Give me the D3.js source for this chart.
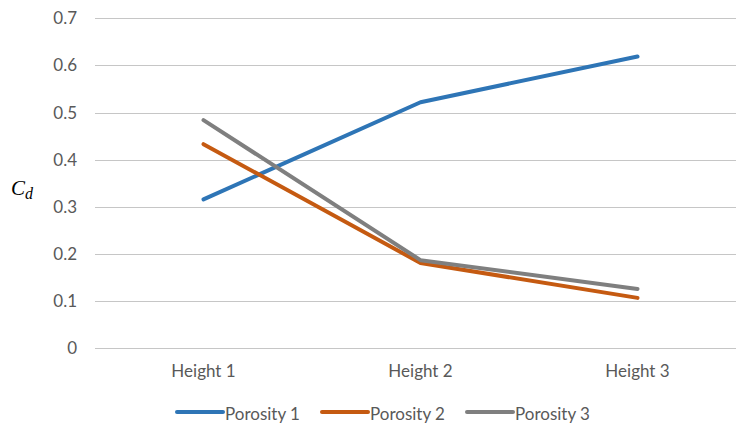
<!DOCTYPE html>
<html>
<head>
<meta charset="utf-8">
<script src="https://cdn.jsdelivr.net/npm/d3@7"></script>
<style>
  html, body { margin: 0; padding: 0; background: #ffffff; }
  svg { display: block; }
  .lbl { font-family: Lato, "Liberation Sans", sans-serif; fill: #595959; }
</style>
</head>
<body>
<svg id="chart" width="736" height="423"></svg>
<script>
// Categories along the x axis
const categories = ["Height 1", "Height 2", "Height 3"];

// Drag coefficient per porosity level
const porosity1 = [0.316, 0.522, 0.619];
const porosity2 = [0.433, 0.181, 0.107];
const porosity3 = [0.484, 0.187, 0.126];

const seriesNames = ["Porosity 1", "Porosity 2", "Porosity 3"];
const seriesColors = ["#2E75B6", "#C55A11", "#7F7F7F"];

// Y axis ticks
const yTicks = [0, 0.1, 0.2, 0.3, 0.4, 0.5, 0.6, 0.7];

const series = [porosity1, porosity2, porosity3].map((vals, i) => ({
  name: seriesNames[i],
  color: seriesColors[i],
  values: vals
}));

const svg = d3.select("#chart");

const plot = { left: 95, right: 746, top: 18.3, bottom: 348.3 };

const x = d3.scaleBand()
  .domain(categories)
  .range([plot.left, plot.right])
  .padding(0);

const y = d3.scaleLinear()
  .domain([0, 0.7])
  .range([plot.bottom, plot.top]);

// Horizontal gridlines
svg.append("g")
  .selectAll("line")
  .data(yTicks)
  .join("line")
  .attr("x1", plot.left)
  .attr("x2", plot.right)
  .attr("y1", d => Math.round(y(d)) + 0.5)
  .attr("y2", d => Math.round(y(d)) + 0.5)
  .attr("stroke", "#c6c6c6")
  .attr("stroke-width", 1);

// Y tick labels
const yAxis = d3.axisLeft(y)
  .tickValues(yTicks)
  .tickFormat(d => d === 0 ? "0" : d3.format(".1f")(d))
  .tickSize(0)
  .tickPadding(0);

const yg = svg.append("g")
  .attr("transform", `translate(77,0)`)
  .call(yAxis);
yg.select(".domain").remove();
yg.selectAll("text")
  .attr("class", "lbl")
  .attr("font-size", 17);

// X category labels
const xAxis = d3.axisBottom(x).tickSize(0).tickPadding(0);
const xg = svg.append("g")
  .attr("transform", `translate(0,365)`)
  .call(xAxis);
xg.select(".domain").remove();
xg.selectAll("text")
  .attr("class", "lbl")
  .attr("font-size", 17);

// Axis title: C with subscript d
const title = svg.append("text")
  .attr("x", 11)
  .attr("y", 195)
  .style("font-family", "'Liberation Serif', 'DejaVu Serif', serif")
  .style("font-style", "italic")
  .style("font-size", "21px")
  .style("fill", "#000000");
title.append("tspan").text("C");
title.append("tspan")
  .attr("dy", 4)
  .style("font-size", "16px")
  .text("d");

// Lines
const line = d3.line()
  .x((d, i) => x(categories[i]) + x.bandwidth() / 2)
  .y(d => y(d));

svg.append("g")
  .selectAll("path")
  .data(series)
  .join("path")
  .attr("d", d => line(d.values))
  .attr("fill", "none")
  .attr("stroke", d => d.color)
  .attr("stroke-width", 4)
  .attr("stroke-linecap", "round")
  .attr("stroke-linejoin", "round");

// Legend
const legendX = [177, 322, 467];
const legend = svg.append("g")
  .selectAll("g")
  .data(series)
  .join("g")
  .attr("transform", (d, i) => `translate(${legendX[i]},412)`);

legend.append("line")
  .attr("x1", 0)
  .attr("x2", 46)
  .attr("y1", 0)
  .attr("y2", 0)
  .attr("stroke", d => d.color)
  .attr("stroke-width", 4)
  .attr("stroke-linecap", "round");

legend.append("text")
  .attr("class", "lbl")
  .attr("x", 48)
  .attr("y", 8)
  .attr("font-size", 17)
  .text(d => d.name);
</script>
</body>
</html>
